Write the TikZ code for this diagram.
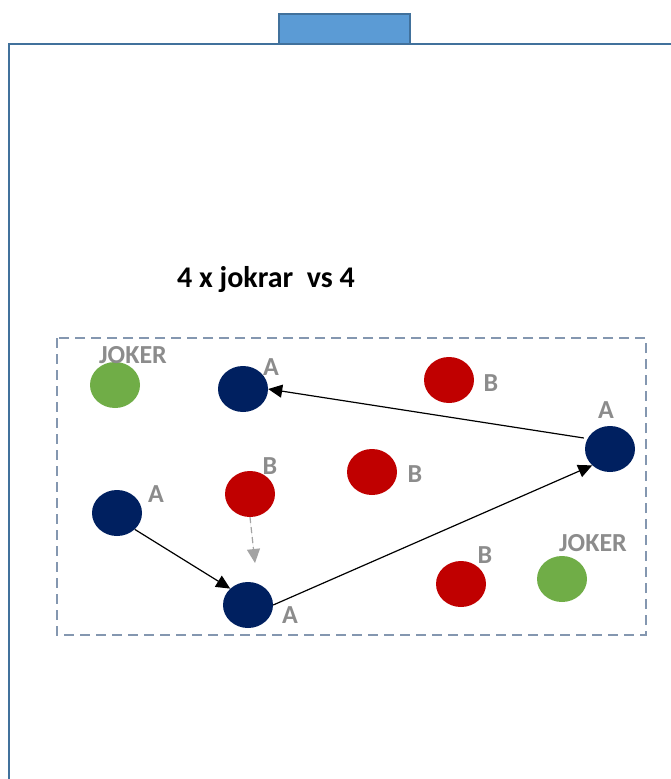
\documentclass[tikz,border=0pt]{standalone}
\usepackage{fontspec}
\setmainfont{Carlito}
\usetikzlibrary{shapes.geometric,arrows.meta}
\definecolor{fieldline}{HTML}{41719C}
\definecolor{goalfill}{HTML}{5B9BD5}
\definecolor{zoneline}{HTML}{8497B0}
\definecolor{teamA}{HTML}{002060}
\definecolor{teamB}{HTML}{C00000}
\definecolor{jokercol}{HTML}{70AD47}
\definecolor{lblgray}{HTML}{8C8C8C}

\begin{document}
\begin{tikzpicture}[x=1pt,y=-1pt,
  player/.style={ellipse,minimum width=50pt,minimum height=46pt,inner sep=0pt,fill=#1},
  lbl/.style={text=lblgray,font=\bfseries\fontsize{26}{30}\selectfont,inner sep=0pt},
  pass/.style={-{Triangle[length=14pt,width=13pt]},line width=1.2pt},
  run/.style={-{Triangle[length=14pt,width=13pt]},line width=1.2pt,dashed,dash pattern=on 6pt off 4pt,draw=lblgray!80,fill=lblgray!80}]

\useasboundingbox (0,0) rectangle (671,779);

% Field and goal
\draw[fieldline,line width=2pt] (9,790) -- (9,44) -- (680,44);
\draw[fieldline,line width=2pt,fill=goalfill] (279,44) rectangle (410,14);

% Title
\node[font=\bfseries\fontsize{30}{34}\selectfont] (title) at (266,280) {4 x jokrar~ vs 4};

% Playing zone
\draw[zoneline,line width=2pt,dash pattern=on 10pt off 6pt] (57,338) rectangle (646,635);

% Players
\node[player=jokercol] (joker1) at (115,385) {};
\node[player=jokercol] (joker2) at (562,579) {};
\node[player=teamA] (a1) at (243,389) {};
\node[player=teamA] (a2) at (610,449) {};
\node[player=teamA] (a3) at (117,513) {};
\node[player=teamA] (a4) at (248,605) {};
\node[player=teamB] (b1) at (449,380) {};
\node[player=teamB] (b2) at (372,472) {};
\node[player=teamB] (b3) at (250,494) {};
\node[player=teamB] (b4) at (461,584) {};

% Labels
\node[lbl] (ljoker1) at (133,355) {JOKER};
\node[lbl] (ljoker2) at (593,543) {JOKER};
\node[lbl] (la1) at (271,367) {A};
\node[lbl] (la2) at (606,410) {A};
\node[lbl] (la3) at (156,494) {A};
\node[lbl] (la4) at (290,615) {A};
\node[lbl] (lb1) at (491,383) {B};
\node[lbl] (lb2) at (415,474) {B};
\node[lbl] (lb3) at (270,466) {B};
\node[lbl] (lb4) at (485,555) {B};

% Passes and runs
\coordinate (runend) at (255,563);
\draw[pass] (a2.west) ++(-1,-11) -- (a1.east);
\draw[pass] (a3.south east) -- (a4.north west);
\draw[pass] (a4.east) -- (a2.south west);
\draw[run] (b3.south) -- (runend);

\end{tikzpicture}
\end{document}
